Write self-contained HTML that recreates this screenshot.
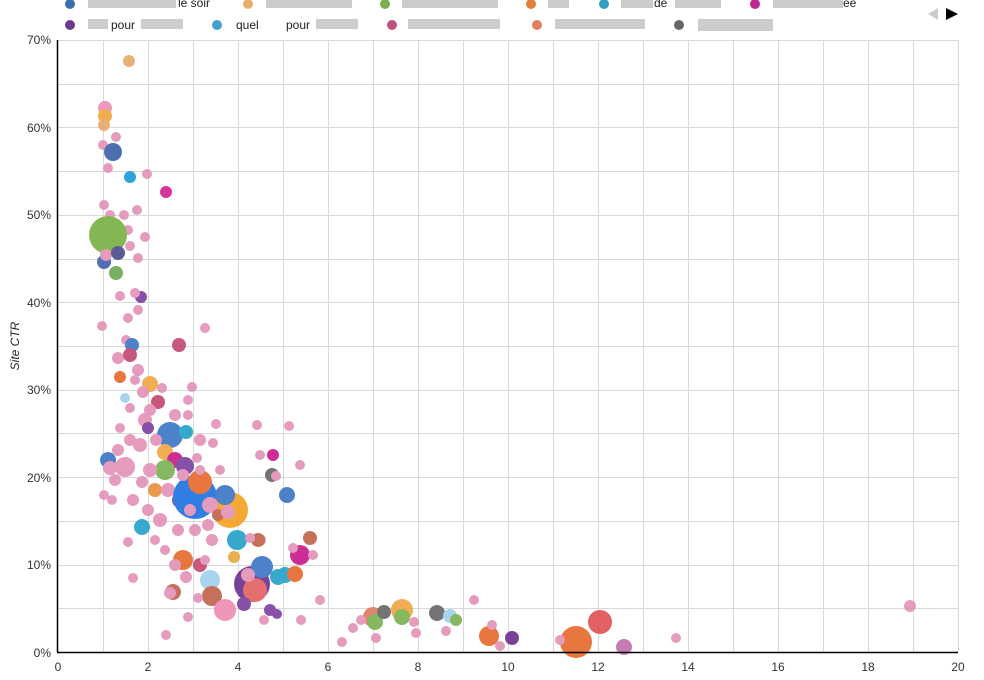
<!DOCTYPE html>
<html><head><meta charset="utf-8"><style>
body{margin:0;background:#fff;width:984px;height:675px;overflow:hidden;font-family:"Liberation Sans",sans-serif;}
</style></head><body>
<svg width="984" height="675" xmlns="http://www.w3.org/2000/svg" font-family="Liberation Sans, sans-serif">
<g stroke="#d9d9d9" stroke-width="1">
<line x1="58" y1="40.5" x2="958" y2="40.5"/><line x1="58" y1="84.5" x2="958" y2="84.5"/><line x1="58" y1="127.5" x2="958" y2="127.5"/><line x1="58" y1="171.5" x2="958" y2="171.5"/><line x1="58" y1="215.5" x2="958" y2="215.5"/><line x1="58" y1="259.5" x2="958" y2="259.5"/><line x1="58" y1="302.5" x2="958" y2="302.5"/><line x1="58" y1="346.5" x2="958" y2="346.5"/><line x1="58" y1="390.5" x2="958" y2="390.5"/><line x1="58" y1="433.5" x2="958" y2="433.5"/><line x1="58" y1="477.5" x2="958" y2="477.5"/><line x1="58" y1="521.5" x2="958" y2="521.5"/><line x1="58" y1="565.5" x2="958" y2="565.5"/><line x1="58" y1="608.5" x2="958" y2="608.5"/>
<line x1="103.5" y1="40" x2="103.5" y2="652"/><line x1="148.5" y1="40" x2="148.5" y2="652"/><line x1="193.5" y1="40" x2="193.5" y2="652"/><line x1="238.5" y1="40" x2="238.5" y2="652"/><line x1="283.5" y1="40" x2="283.5" y2="652"/><line x1="328.5" y1="40" x2="328.5" y2="652"/><line x1="373.5" y1="40" x2="373.5" y2="652"/><line x1="418.5" y1="40" x2="418.5" y2="652"/><line x1="463.5" y1="40" x2="463.5" y2="652"/><line x1="508.5" y1="40" x2="508.5" y2="652"/><line x1="553.5" y1="40" x2="553.5" y2="652"/><line x1="598.5" y1="40" x2="598.5" y2="652"/><line x1="643.5" y1="40" x2="643.5" y2="652"/><line x1="688.5" y1="40" x2="688.5" y2="652"/><line x1="733.5" y1="40" x2="733.5" y2="652"/><line x1="778.5" y1="40" x2="778.5" y2="652"/><line x1="823.5" y1="40" x2="823.5" y2="652"/><line x1="868.5" y1="40" x2="868.5" y2="652"/><line x1="913.5" y1="40" x2="913.5" y2="652"/><line x1="958.5" y1="40" x2="958.5" y2="652"/>
</g>
<g opacity="0.9">
<circle cx="129" cy="61" r="6" fill="#e8a66a"/>
<circle cx="105" cy="108" r="7" fill="#e98fb8"/><circle cx="105" cy="116" r="7" fill="#f0a63c"/><circle cx="104" cy="125" r="6" fill="#e8a66a"/><circle cx="103" cy="145" r="5" fill="#e391b8"/><circle cx="113" cy="152" r="9" fill="#3a5fa8"/><circle cx="116" cy="137" r="5" fill="#e391b8"/><circle cx="108" cy="168" r="5" fill="#e391b8"/><circle cx="130" cy="177" r="6" fill="#1a9bd7"/><circle cx="147" cy="174" r="5" fill="#e391b8"/><circle cx="166" cy="192" r="6" fill="#d2208f"/><circle cx="104" cy="205" r="5" fill="#e391b8"/><circle cx="110" cy="215" r="5" fill="#e391b8"/><circle cx="124" cy="215" r="5" fill="#e391b8"/><circle cx="137" cy="210" r="5" fill="#e391b8"/><circle cx="145" cy="237" r="5" fill="#e391b8"/><circle cx="128" cy="230" r="5" fill="#e391b8"/>
<circle cx="108" cy="235" r="19" fill="#76b041"/>
<circle cx="104" cy="262" r="7" fill="#4060b0"/><circle cx="106" cy="255" r="6" fill="#e391b8"/><circle cx="118" cy="253" r="7" fill="#4a4a8a"/><circle cx="116" cy="273" r="7" fill="#6aa84f"/><circle cx="138" cy="258" r="5" fill="#e391b8"/><circle cx="130" cy="246" r="5" fill="#e391b8"/><circle cx="102" cy="326" r="5" fill="#e391b8"/><circle cx="120" cy="296" r="5" fill="#e391b8"/><circle cx="141" cy="297" r="6" fill="#7b3fa0"/><circle cx="135" cy="293" r="5" fill="#e391b8"/><circle cx="128" cy="318" r="5" fill="#e391b8"/><circle cx="126" cy="340" r="5" fill="#e391b8"/><circle cx="179" cy="345" r="7" fill="#c2456d"/><circle cx="205" cy="328" r="5" fill="#e391b8"/><circle cx="138" cy="310" r="5" fill="#e391b8"/>
<circle cx="132" cy="345" r="7" fill="#3a74c4"/><circle cx="118" cy="358" r="6" fill="#e391b8"/><circle cx="130" cy="355" r="7" fill="#c2456d"/><circle cx="120" cy="377" r="6" fill="#e5692a"/><circle cx="138" cy="370" r="6" fill="#e391b8"/><circle cx="150" cy="384" r="8" fill="#f0a640"/><circle cx="143" cy="392" r="6" fill="#e391b8"/><circle cx="162" cy="388" r="5" fill="#e391b8"/><circle cx="125" cy="398" r="5" fill="#9fd0ee"/><circle cx="158" cy="402" r="7" fill="#c2456d"/><circle cx="130" cy="408" r="5" fill="#e391b8"/><circle cx="192" cy="387" r="5" fill="#e391b8"/><circle cx="188" cy="400" r="5" fill="#e391b8"/><circle cx="188" cy="415" r="5" fill="#e391b8"/><circle cx="145" cy="420" r="7" fill="#e391b8"/><circle cx="120" cy="428" r="5" fill="#e391b8"/><circle cx="216" cy="424" r="5" fill="#e391b8"/><circle cx="257" cy="425" r="5" fill="#e391b8"/><circle cx="213" cy="443" r="5" fill="#e391b8"/>
<circle cx="135" cy="380" r="5" fill="#e391b8"/><circle cx="150" cy="410" r="6" fill="#e391b8"/><circle cx="175" cy="415" r="6" fill="#e391b8"/><circle cx="200" cy="440" r="6" fill="#e391b8"/><circle cx="130" cy="440" r="6" fill="#e391b8"/><circle cx="115" cy="480" r="6" fill="#e391b8"/><circle cx="195" cy="530" r="6" fill="#e391b8"/><circle cx="220" cy="470" r="5" fill="#e391b8"/>
<circle cx="170" cy="435" r="13" fill="#3a74c4"/><circle cx="186" cy="432" r="7" fill="#21a0c8"/><circle cx="148" cy="428" r="6" fill="#7b3fa0"/><circle cx="156" cy="440" r="6" fill="#e391b8"/><circle cx="140" cy="445" r="7" fill="#e391b8"/><circle cx="165" cy="452" r="8" fill="#f0a640"/><circle cx="175" cy="460" r="8" fill="#c8188a"/><circle cx="165" cy="470" r="10" fill="#7ab050"/><circle cx="150" cy="470" r="7" fill="#e391b8"/><circle cx="125" cy="467" r="10" fill="#e391b8"/><circle cx="108" cy="460" r="8" fill="#3a74c4"/><circle cx="110" cy="468" r="7" fill="#e391b8"/><circle cx="118" cy="450" r="6" fill="#e391b8"/><circle cx="185" cy="466" r="9" fill="#7b3fa0"/><circle cx="197" cy="458" r="5" fill="#e391b8"/><circle cx="155" cy="490" r="7" fill="#ea8f3a"/><circle cx="142" cy="482" r="6" fill="#e391b8"/><circle cx="133" cy="500" r="6" fill="#e391b8"/><circle cx="180" cy="500" r="8" fill="#7b3fa0"/><circle cx="168" cy="490" r="7" fill="#e391b8"/><circle cx="148" cy="510" r="6" fill="#e391b8"/><circle cx="160" cy="520" r="7" fill="#e391b8"/><circle cx="104" cy="495" r="5" fill="#e391b8"/><circle cx="112" cy="500" r="5" fill="#e391b8"/><circle cx="142" cy="527" r="8" fill="#21a0c8"/><circle cx="128" cy="542" r="5" fill="#e391b8"/><circle cx="155" cy="540" r="5" fill="#e391b8"/><circle cx="178" cy="530" r="6" fill="#e391b8"/><circle cx="133" cy="578" r="5" fill="#e391b8"/><circle cx="165" cy="550" r="5" fill="#e391b8"/>
<circle cx="195" cy="497" r="22" fill="#1a6fe0"/><circle cx="230" cy="510" r="18" fill="#f5a020"/><circle cx="200" cy="482" r="12" fill="#e5692a"/><circle cx="225" cy="495" r="10" fill="#3a74c4"/><circle cx="210" cy="505" r="8" fill="#e391b8"/><circle cx="190" cy="510" r="6" fill="#e391b8"/><circle cx="218" cy="515" r="6" fill="#c0604a"/><circle cx="228" cy="512" r="7" fill="#e391b8"/><circle cx="208" cy="525" r="6" fill="#e391b8"/><circle cx="183" cy="475" r="6" fill="#e391b8"/><circle cx="237" cy="540" r="10" fill="#21a0c8"/><circle cx="212" cy="540" r="6" fill="#e391b8"/><circle cx="234" cy="557" r="6" fill="#e8a63c"/><circle cx="200" cy="470" r="5" fill="#e391b8"/>
<circle cx="287" cy="495" r="8" fill="#3a74c4"/><circle cx="272" cy="475" r="7" fill="#666"/><circle cx="276" cy="476" r="5" fill="#e391b8"/><circle cx="273" cy="455" r="6" fill="#c8188a"/><circle cx="300" cy="465" r="5" fill="#e391b8"/><circle cx="289" cy="426" r="5" fill="#e391b8"/><circle cx="260" cy="455" r="5" fill="#e391b8"/><circle cx="260" cy="540" r="6" fill="#e391b8"/><circle cx="258" cy="540" r="7" fill="#c0604a"/><circle cx="250" cy="538" r="5" fill="#e391b8"/>
<circle cx="183" cy="560" r="10" fill="#e5692a"/><circle cx="175" cy="565" r="6" fill="#e391b8"/><circle cx="200" cy="565" r="7" fill="#c2456d"/><circle cx="210" cy="580" r="10" fill="#9fd0ee"/><circle cx="212" cy="596" r="10" fill="#c0604a"/><circle cx="225" cy="610" r="11" fill="#ee8ab0"/><circle cx="173" cy="592" r="8" fill="#c0604a"/><circle cx="170" cy="593" r="6" fill="#e391b8"/><circle cx="198" cy="598" r="5" fill="#e391b8"/><circle cx="188" cy="617" r="5" fill="#e391b8"/><circle cx="166" cy="635" r="5" fill="#e391b8"/><circle cx="252" cy="584" r="18" fill="#6b2e8e"/><circle cx="255" cy="590" r="12" fill="#e06060"/><circle cx="262" cy="567" r="11" fill="#3a74c4"/><circle cx="248" cy="575" r="7" fill="#e391b8"/><circle cx="244" cy="604" r="7" fill="#7b3fa0"/><circle cx="285" cy="575" r="8" fill="#21a0c8"/><circle cx="278" cy="577" r="8" fill="#21a0c8"/><circle cx="300" cy="555" r="10" fill="#c8188a"/><circle cx="295" cy="574" r="8" fill="#e5692a"/><circle cx="310" cy="538" r="7" fill="#c0604a"/><circle cx="293" cy="548" r="5" fill="#e391b8"/><circle cx="313" cy="555" r="5" fill="#e391b8"/><circle cx="320" cy="600" r="5" fill="#e391b8"/><circle cx="270" cy="610" r="6" fill="#7b3fa0"/><circle cx="264" cy="620" r="5" fill="#e391b8"/><circle cx="277" cy="614" r="5" fill="#7b3fa0"/><circle cx="301" cy="620" r="5" fill="#e391b8"/><circle cx="205" cy="560" r="5" fill="#e391b8"/><circle cx="186" cy="577" r="6" fill="#e391b8"/>
<circle cx="373" cy="617" r="10" fill="#e07a5f"/><circle cx="375" cy="622" r="8" fill="#7ab050"/><circle cx="384" cy="612" r="7" fill="#666"/><circle cx="402" cy="610" r="11" fill="#f0a640"/><circle cx="402" cy="617" r="8" fill="#7ab050"/><circle cx="437" cy="613" r="8" fill="#666"/><circle cx="450" cy="616" r="7" fill="#9fd0ee"/><circle cx="456" cy="620" r="6" fill="#7ab050"/><circle cx="489" cy="636" r="10" fill="#e5692a"/><circle cx="512" cy="638" r="7" fill="#6b2e8e"/><circle cx="576" cy="642" r="16" fill="#e5692a"/><circle cx="600" cy="622" r="12" fill="#e05050"/><circle cx="624" cy="647" r="8" fill="#c070b0"/><circle cx="910" cy="606" r="6" fill="#e391b8"/><circle cx="676" cy="638" r="5" fill="#e391b8"/><circle cx="353" cy="628" r="5" fill="#e391b8"/><circle cx="342" cy="642" r="5" fill="#e391b8"/><circle cx="376" cy="638" r="5" fill="#e391b8"/><circle cx="416" cy="633" r="5" fill="#e391b8"/><circle cx="446" cy="631" r="5" fill="#e391b8"/><circle cx="474" cy="600" r="5" fill="#e391b8"/><circle cx="492" cy="625" r="5" fill="#e391b8"/><circle cx="500" cy="646" r="5" fill="#e391b8"/><circle cx="560" cy="640" r="5" fill="#e391b8"/><circle cx="361" cy="620" r="5" fill="#e391b8"/><circle cx="414" cy="622" r="5" fill="#e391b8"/>
</g>
<line x1="57.5" y1="40" x2="57.5" y2="652" stroke="#000" stroke-width="1.5"/>
<line x1="57" y1="652.5" x2="958" y2="652.5" stroke="#000" stroke-width="1.5"/>
<g font-size="12" fill="#333" text-anchor="end">
<text x="51" y="44">70%</text><text x="51" y="132">60%</text><text x="51" y="219">50%</text><text x="51" y="307">40%</text><text x="51" y="394">30%</text><text x="51" y="482">20%</text><text x="51" y="569">10%</text><text x="51" y="657">0%</text>
</g>
<g font-size="12" fill="#333" text-anchor="middle">
<text x="58" y="671">0</text><text x="148" y="671">2</text><text x="238" y="671">4</text><text x="328" y="671">6</text><text x="418" y="671">8</text><text x="508" y="671">10</text><text x="598" y="671">12</text><text x="688" y="671">14</text><text x="778" y="671">16</text><text x="868" y="671">18</text><text x="958" y="671">20</text>
</g>
<text x="19" y="346" font-size="12" font-style="italic" fill="#222" text-anchor="middle" transform="rotate(-90 19 346)">Site CTR</text>
<g font-size="12" fill="#222">
<circle cx="70" cy="4" r="5" fill="#3a6fb0"/><rect x="88" y="-2" width="88" height="10" fill="#ccc"/><text x="178" y="7">le soir</text>
<circle cx="248" cy="4" r="5" fill="#e8ae6a"/><rect x="266" y="-2" width="86" height="10" fill="#ccc"/>
<circle cx="385" cy="4" r="5" fill="#7ab050"/><rect x="402" y="-2" width="96" height="10" fill="#ccc"/>
<circle cx="531" cy="4" r="5" fill="#e0803a"/><rect x="548" y="-2" width="21" height="10" fill="#ccc"/>
<circle cx="604" cy="4" r="5" fill="#30a0c0"/><rect x="621" y="-2" width="32" height="10" fill="#ccc"/><text x="654" y="7">de</text><rect x="675" y="-2" width="46" height="10" fill="#ccc"/>
<circle cx="755" cy="4" r="5" fill="#c02890"/><rect x="773" y="-2" width="70" height="10" fill="#ccc"/><text x="843" y="7">ee</text>
<circle cx="70" cy="25" r="5" fill="#6a3a8e"/><rect x="88" y="19" width="20" height="10" fill="#ccc"/><text x="111" y="29">pour</text><rect x="141" y="19" width="42" height="10" fill="#ccc"/>
<circle cx="217" cy="25" r="5" fill="#40a0d0"/><text x="236" y="29">quel</text><text x="286" y="29">pour</text><rect x="316" y="19" width="42" height="10" fill="#ccc"/>
<circle cx="392" cy="25" r="5" fill="#c05080"/><rect x="408" y="19" width="92" height="10" fill="#ccc"/>
<circle cx="537" cy="25" r="5" fill="#e08060"/><rect x="555" y="19" width="90" height="10" fill="#ccc"/>
<circle cx="679" cy="25" r="5" fill="#666"/><rect x="698" y="19" width="75" height="12" fill="#ccc"/>
</g>
<polygon points="938,14 938,20 928,14 938,8" fill="#ccc"/>
<polygon points="946,8 958,14 946,20" fill="#000"/>
</svg>
</body></html>
